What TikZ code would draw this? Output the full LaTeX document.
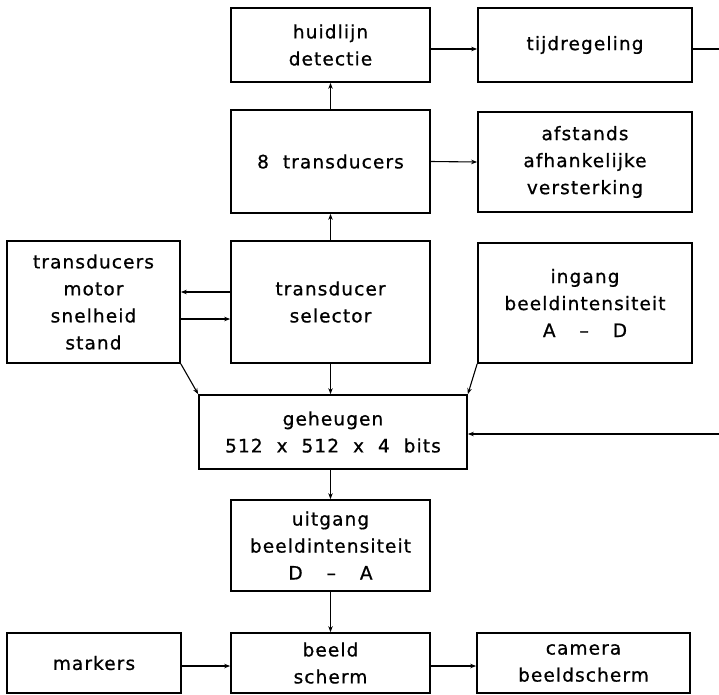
\documentclass[tikz,border=0pt]{standalone}
\usepackage{fontspec}
\setmainfont{DejaVu Sans}[LetterSpace=6,FakeBold=0.8]
\usetikzlibrary{arrows.meta}
\begin{document}
\begin{tikzpicture}[x=1pt,y=-1pt,
  box/.style={draw, line width=1.7pt, inner sep=0pt, align=center,
    font=\fontsize{18.5}{27}\selectfont},
  conn/.style={line width=1.1pt, -{Stealth[length=6pt,width=4.5pt]}},
  plain/.style={line width=1.1pt}]
\useasboundingbox (0,0) rectangle (719,694);
\node[box, minimum width=199pt, minimum height=74pt] (huid) at (330.5,45) {huidlijn\\detectie};
\node[box, minimum width=214pt, minimum height=74pt] (tijd) at (585,45) {tijdregeling};
\node[box, minimum width=199pt, minimum height=103pt] (trans) at (330.5,161.5) {8\ \ transducers};
\node[box, minimum width=214pt, minimum height=100pt] (afst) at (585,162) {afstands\\afhankelijke\\versterking};
\node[box, minimum width=173pt, minimum height=122pt] (motor) at (93.5,302) {transducers\\motor\\snelheid\\stand};
\node[box, minimum width=199pt, minimum height=122pt] (sel) at (330.5,302) {transducer\\selector};
\node[box, minimum width=214pt, minimum height=120pt] (ingang) at (585,303) {ingang\\beeldintensiteit\\A\hspace{24pt}–\hspace{24pt}D};
\node[box, minimum width=268pt, minimum height=74pt] (geh) at (333,432) {geheugen\\512\ \ x\ \ 512\ \ x\ \ 4\ \ bits};
\node[box, minimum width=199pt, minimum height=91pt] (uit) at (330.5,545.5) {uitgang\\beeldintensiteit\\D\hspace{24pt}–\hspace{24pt}A};
\node[box, minimum width=174pt, minimum height=60pt] (mark) at (94,663) {markers};
\node[box, minimum width=199pt, minimum height=60pt] (beeld) at (330.5,663) {beeld\\scherm};
\node[box, minimum width=213pt, minimum height=60pt] (cam) at (583.5,663) {camera\\beeldscherm};
\coordinate (rout) at (719,49);
\coordinate (rin) at (719,434);
\draw[conn] (trans.north) -- (huid.south);
\draw[conn] ([yshift=-4pt]huid.east) -- ([yshift=-4pt]tijd.west);
\draw[plain] ([yshift=-4pt]tijd.east) -- (rout);
\draw[conn] (trans.east) -- (afst.west);
\draw[conn] (sel.north) -- (trans.south);
\draw[conn] ([yshift=10pt]sel.west) -- ([yshift=10pt]motor.east);
\draw[conn] ([yshift=-17pt]motor.east) -- ([yshift=-17pt]sel.west);
\draw[conn] (motor.south east) -- (geh.north west);
\draw[conn] (sel.south) -- (geh.north -| sel.south);
\draw[conn] (ingang.south west) -- (geh.north east);
\draw[conn] (rin) -- (rin -| geh.east);
\draw[conn] (geh.south -| uit.north) -- (uit.north);
\draw[conn] (uit.south) -- (beeld.north);
\draw[conn] ([yshift=-3pt]mark.east) -- ([yshift=-3pt]beeld.west);
\draw[conn] ([yshift=-3pt]beeld.east) -- ([yshift=-3pt]cam.west);
\end{tikzpicture}
\end{document}
